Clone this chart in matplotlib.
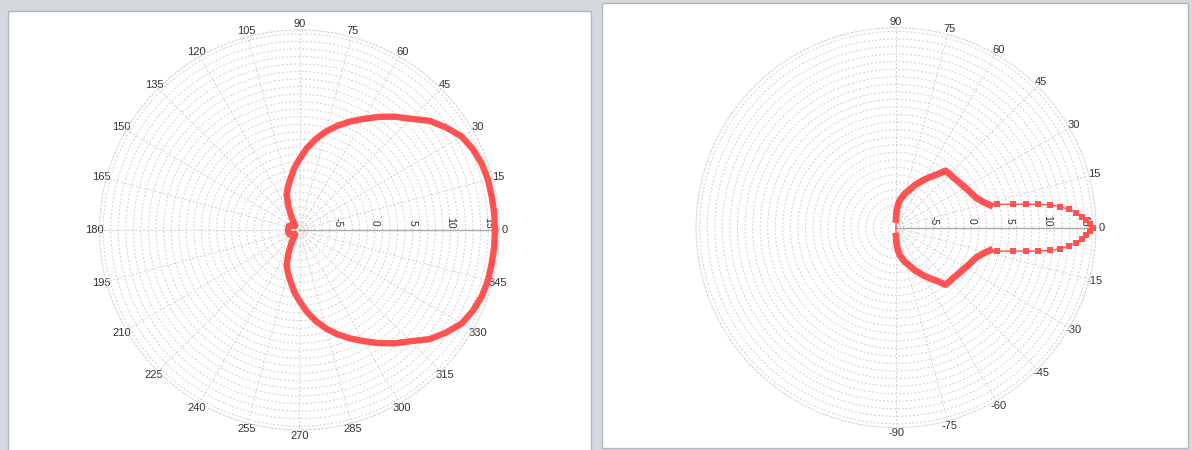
import numpy as np
import matplotlib.pyplot as plt
from matplotlib.patches import Rectangle

plt.rcParams['font.family'] = ['Liberation Sans', 'DejaVu Sans']

# left chart: full 360 pattern, 5 degree steps
LEFT_DEG = list(range(0, 360, 5))
LEFT_R = [15.9, 15.9, 15.85, 15.85, 15.7, 15.35, 14.8, 13.7, 12.5, 10.85,
          9.6, 8.3, 7.0, 5.85, 4.7, 3.5, 2.2, 0.85, -0.6, -1.8,
          -3.1, -4.1, -5.0, -6.5, -7.7, -8.5, -9.0, -9.2, -9.2, -9.0,
          -8.8, -8.6, -8.5, -8.5, -8.5, -8.5, -8.5, -8.5, -8.5, -8.5,
          -8.5, -8.6, -8.8, -9.0, -9.2, -9.2, -9.0, -8.5, -7.7, -6.5,
          -5.0, -4.1, -3.1, -1.8, -0.6, 0.85, 2.2, 3.5, 4.7, 5.85,
          7.0, 8.3, 9.6, 10.85, 12.5, 13.7, 14.8, 15.35, 15.7, 15.85,
          15.85, 15.9]
LEFT_TICKS = list(range(0, 360, 15))

# right chart: -90..90 pattern
RIGHT_UP_DEG = [90, 88, 85, 82, 76, 70, 66, 60, 56, 52, 49, 45, 41, 37,
                33.5, 30, 26.4, 23, 20, 16, 13.6]
RIGHT_UP_R = [-8.9, -7.8, -7.0, -6.3, -5.4, -4.6, -3.8, -2.7, -1.9, -1.0,
              0.0, 0.05, 0.1, 0.25, 0.4, 0.6, 0.85, 1.1, 1.4, 2.15, 2.8]
RIGHT_TIP_DEG = [13.0, 11.3, 10.2, 9.3, 8.4, 7.3, 6.1, 4.8, 3.4, 2.3, 1.1, 0,
                 -1.1, -2.3, -3.4, -4.8, -6.1, -7.3, -8.4, -9.3, -10.2, -11.3, -13.0]
RIGHT_TIP_R = [3.8, 5.8, 7.5, 9.1, 10.6, 11.9, 13.0, 13.9, 14.65, 15.2, 15.7, 16.05,
               15.7, 15.2, 14.65, 13.9, 13.0, 11.9, 10.6, 9.1, 7.5, 5.8, 3.8]
RIGHT_LO_DEG = [-13.6, -16, -20, -23, -26.4, -30, -33.5, -37, -41, -45, -49,
                -52, -56, -60, -66, -70, -76, -82, -85, -88, -90]
RIGHT_LO_R = [2.8, 2.15, 1.4, 1.1, 0.85, 0.6, 0.4, 0.25, 0.1, 0.05, 0.0,
              -1.0, -1.9, -2.7, -3.8, -4.6, -5.4, -6.3, -7.0, -7.8, -8.9]
RIGHT_TICKS = list(range(90, -91, -15))

R_LABELS = [-5, 0, 5, 10, 15]
R_MIN, R_MAX = -10, 16.5

RED = '#ff5252'
GRID = '#d0d0d0'
W, H = 1192, 450


def rad(degs):
    # keep angles inside 0..2pi so the polar view stays a full circle
    return np.mod(np.deg2rad(degs), 2 * np.pi)


fig = plt.figure(figsize=(W / 100, H / 100), dpi=100, facecolor='#d5d8de')
fig.add_artist(Rectangle((8 / W, -10 / H), 583 / W, 449 / H, transform=fig.transFigure,
                         facecolor='white', edgecolor='#b4b7bc', lw=1, zorder=-5))
fig.add_artist(Rectangle((602 / W, 2 / H), 586 / W, 445 / H, transform=fig.transFigure,
                         facecolor='white', edgecolor='#b4b7bc', lw=1, zorder=-5))


def setup(ax, ticks):
    ax.set_facecolor('none')
    ax.set_ylim(R_MIN, R_MAX)
    ax.set_yticks(np.arange(-9, 17))
    ax.set_yticklabels([])
    ax.set_xticks(rad(ticks))
    ax.set_xticklabels([str(t) for t in ticks], fontsize=8, color='#333333')
    ax.tick_params(axis='x', pad=-6.5)
    ax.tick_params(axis='y', length=0)
    ax.grid(True, color=GRID, ls=(0, (2, 2)), lw=0.7)
    ax.spines['polar'].set(ls=(0, (2, 2)), color=GRID, lw=0.7)
    ax.plot([0, 0], [R_MIN, R_MAX], color='#aaaaaa', lw=1, zorder=2)
    for v in R_LABELS:
        ax.annotate(str(v), xy=(0, v), xytext=(0, 5), textcoords='offset points',
                    rotation=-90, ha='center', va='center', fontsize=7.5, color='#333333')


ax1 = fig.add_axes([99.5 / W, 20 / H, 400 / W, 400 / H], projection='polar')
setup(ax1, LEFT_TICKS)
ax1.plot(rad(LEFT_DEG + [LEFT_DEG[0]]), LEFT_R + [LEFT_R[0]], color=RED, lw=4.6,
         solid_joinstyle='round', zorder=3)
ax1.set_xlim(0, 2 * np.pi)

ax2 = fig.add_axes([696 / W, 22.3 / H, 400 / W, 400 / H], projection='polar')
setup(ax2, RIGHT_TICKS)
all_deg = RIGHT_UP_DEG + RIGHT_TIP_DEG + RIGHT_LO_DEG + [RIGHT_UP_DEG[0]]
all_r = RIGHT_UP_R + RIGHT_TIP_R + RIGHT_LO_R + [RIGHT_UP_R[0]]
ax2.plot(np.deg2rad(all_deg), all_r, color=RED, lw=1.0, zorder=3)
ax2.plot(np.deg2rad(RIGHT_UP_DEG), RIGHT_UP_R, color=RED, lw=4.8, zorder=3)
ax2.plot(np.deg2rad(RIGHT_LO_DEG), RIGHT_LO_R, color=RED, lw=4.8, zorder=3)
ax2.plot(np.deg2rad(RIGHT_TIP_DEG), RIGHT_TIP_R, ls='none', marker='s', ms=3.8,
         mew=0, color=RED, zorder=3)
ax2.set_xlim(0, 2 * np.pi)
ax2.set_ylim(R_MIN, R_MAX)

fig.savefig('out.png', dpi=100, facecolor=fig.get_facecolor())
